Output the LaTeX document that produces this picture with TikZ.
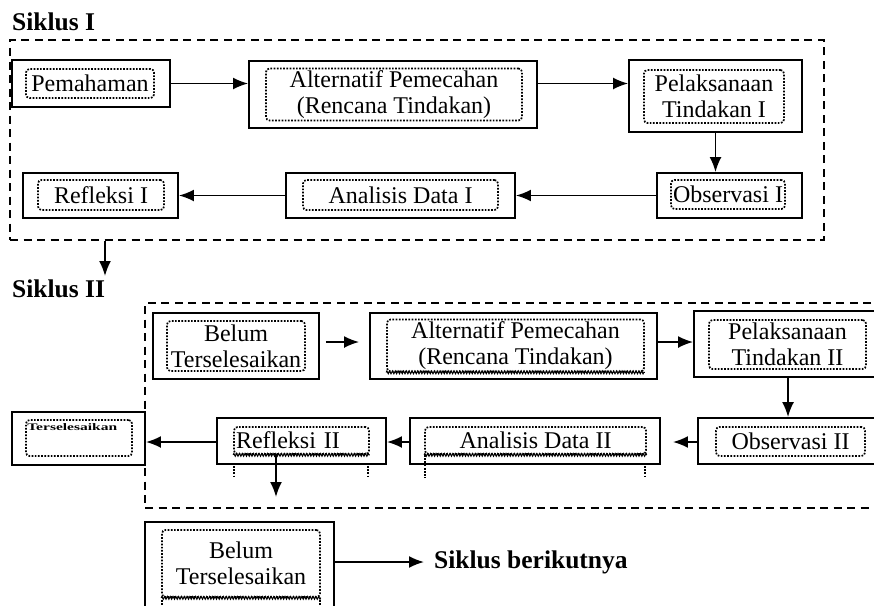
\documentclass[tikz,border=0pt]{standalone}
\usepackage{fontspec}
\setmainfont{Liberation Serif}
\usetikzlibrary{arrows.meta,decorations.pathmorphing}
\begin{document}
\begin{tikzpicture}[x=1pt,y=-1pt,
  obox/.style={draw, line width=1.9pt, inner sep=0pt},
  ibox/.style={draw, line width=1.7pt, dash pattern=on 1.7pt off 1.5pt, rounded corners=3.5pt, inner sep=2pt, align=center, font=\fontsize{24}{26}\selectfont},
  dbox/.style={draw, line width=1.7pt, dash pattern=on 8pt off 5.5pt, inner sep=0pt},
  arr/.style={line width=1.8pt, -{Latex[length=15pt,width=12pt]}},
  lab/.style={font=\fontsize{25.5}{28}\selectfont\bfseries, inner sep=0pt},
  wavy/.style={decorate, decoration={zigzag, segment length=2.8pt, amplitude=1.4pt}, line width=1pt},
  stub/.style={line width=1.7pt, dash pattern=on 1.7pt off 1.5pt}
]
\useasboundingbox (0,0) rectangle (874,605);
\clip (0,0) rectangle (874,605);
\fill[white] (0,0) rectangle (874,605);

% ---------- Siklus I ----------
\node[lab, anchor=base west] (s1) at (12,30) {Siklus I};
\node[dbox, minimum width=814pt, minimum height=200pt] (cyc1) at (417,140) {};

\node[obox, minimum width=158pt, minimum height=47pt] (pem) at (91,83.5) {};
\node[ibox, minimum width=128pt, minimum height=29pt] (pemi) at (90,83.5) {Pemahaman};

\node[obox, minimum width=288pt, minimum height=67pt] (alt1) at (393,94.5) {};
\node[ibox, minimum width=256pt, minimum height=51pt] (alt1i) at (394,94.5) {Alternatif Pemecahan\\(Rencana Tindakan)};

\node[obox, minimum width=173pt, minimum height=72pt] (pel1) at (715.5,96) {};
\node[ibox, minimum width=140pt, minimum height=53pt] (pel1i) at (714,96.5) {Pelaksanaan\\Tindakan I};

\node[obox, minimum width=145pt, minimum height=45pt] (obs1) at (729.5,195.5) {};
\node[ibox, minimum width=112pt, minimum height=29pt] (obs1i) at (728,194.5) {Observasi I};

\node[obox, minimum width=229pt, minimum height=45pt] (ana1) at (400.5,195.5) {};
\node[ibox, minimum width=195pt, minimum height=30pt] (ana1i) at (400.5,195) {Analisis Data I};

\node[obox, minimum width=155pt, minimum height=45pt] (ref1) at (100.5,195.5) {};
\node[ibox, minimum width=126pt, minimum height=30pt] (ref1i) at (101,195) {Refleksi I};

\draw[arr] (pem.east) -- (pem.east -| alt1.west);
\draw[arr] (alt1.east |- pem.east) -- (pel1.west |- pem.east);
\draw[arr] (pel1.south) -- (pel1.south |- obs1.north);
\draw[arr] (obs1.west) -- (ana1.east);
\draw[arr] (ana1.west) -- (ref1.east);

\coordinate (s2tip) at (105,276);
\draw[arr] (cyc1.south -| s2tip) -- (s2tip);

% ---------- Siklus II ----------
\node[lab, anchor=base west] (s2) at (12,297) {Siklus II};
\node[dbox, minimum width=760pt, minimum height=205pt] (cyc2) at (525,405.5) {};

\node[obox, minimum width=166pt, minimum height=66pt] (bel1) at (236,346) {};
\node[ibox, minimum width=138pt, minimum height=50pt] (bel1i) at (236,346) {Belum\\Terselesaikan};

\node[obox, minimum width=287pt, minimum height=66pt] (alt2) at (513.5,346) {};
\node[ibox, minimum width=257pt, minimum height=49pt] (alt2i) at (515.5,345.5) {Alternatif Pemecahan\\(Rencana Tindakan)};
\draw[wavy] (alt2i.south west) -- (alt2i.south east);

\node[obox, minimum width=188pt, minimum height=66pt] (pel2) at (788,344) {};
\node[ibox, minimum width=157pt, minimum height=49pt] (pel2i) at (787.5,344.5) {Pelaksanaan\\Tindakan II};

\node[obox, minimum width=184pt, minimum height=46pt] (obs2) at (790,441) {};
\node[ibox, minimum width=149pt, minimum height=29pt] (obs2i) at (790.5,441.5) {Observasi II};

\node[obox, minimum width=250pt, minimum height=46pt] (ana2) at (535,441) {};
\node[ibox, minimum width=221pt, minimum height=27pt] (ana2i) at (535.5,440.5) {Analisis Data II};
\draw[wavy] (ana2i.south west) -- (ana2i.south east);

\node[obox, minimum width=169pt, minimum height=46pt] (ref2) at (301.5,441) {};
\node[ibox, minimum height=27pt, text width=131pt, align=left] (ref2i) at (301.5,440.5) {Refleksi II};
\draw[wavy] (ref2i.south west) -- (ref2i.south east);

\node[obox, minimum width=133pt, minimum height=53pt] (ters) at (78.5,438.5) {};
\node[ibox, minimum width=106pt, minimum height=36pt] (tersi) at (79,438) {};
\node[font=\fontsize{10}{10}\selectfont\bfseries, inner sep=0pt, xscale=1.55, anchor=west] (terst) at (27,427) {Terselesaikan};

\draw[stub] (234,466) -- (234,477);
\draw[stub] (368,466) -- (368,477);
\draw[stub] (425,455) -- (425,478);
\draw[stub] (645,466) -- (645,477);

\draw[arr, shorten <=6pt, shorten >=10pt] (bel1.east |- 0,342) -- (alt2.west |- 0,342);
\draw[arr] (alt2.east |- 0,342) -- (pel2.west |- 0,342);
\draw[arr] (pel2.south) -- (pel2.south |- obs2.north);
\draw[arr, shorten >=12pt] (obs2.west |- 0,442) -- (ana2.east |- 0,442);
\draw[arr] (ana2.west |- 0,442) -- (ref2.east |- 0,442);
\draw[arr] (ref2.west |- 0,442) -- (ters.east |- 0,442);

\coordinate (r2tip) at (276,497);
\draw[arr] (ref2i.south -| r2tip) -- (r2tip);

% ---------- next ----------
\node[obox, minimum width=189pt, minimum height=118pt] (bel2) at (239.5,581) {};
\node[ibox, minimum width=158pt, minimum height=67pt] (bel2i) at (241,563.5) {Belum\\Terselesaikan};
\draw[wavy] (bel2i.south west) -- (bel2i.south east);
\draw[stub] (162,600) -- (162,612);
\draw[stub] (320,600) -- (320,612);

\node[lab, anchor=west] (sb) at (434,562) {Siklus berikutnya};
\draw[arr, shorten >=10pt] (bel2.east |- sb.west) -- (sb.west);
\end{tikzpicture}
\end{document}
